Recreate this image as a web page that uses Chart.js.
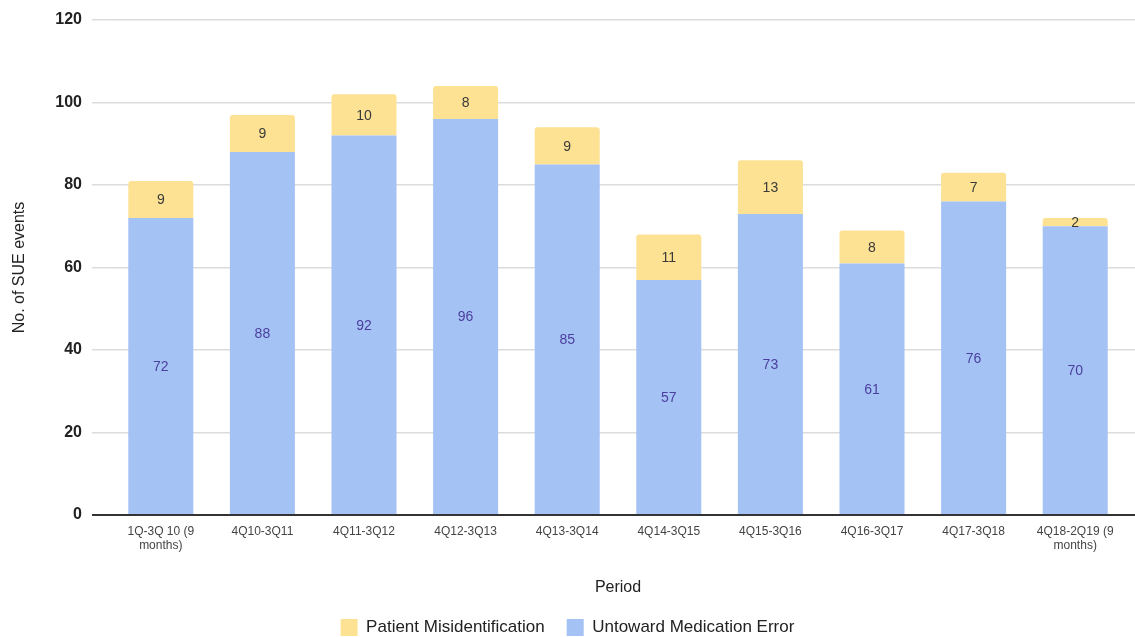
<!DOCTYPE html>
<html>
<head>
<meta charset="utf-8">
<script src="https://cdn.jsdelivr.net/npm/chart.js@4/dist/chart.umd.min.js"></script>
<style>
html,body{margin:0;padding:0;background:#fff;}
#wrap{width:1135px;height:637px;position:relative;}
</style>
</head>
<body>
<div id="wrap"><canvas id="c" width="1135" height="637"></canvas></div>
<script>
const categories = [
  ["1Q-3Q 10 (9", "months)"],
  "4Q10-3Q11",
  "4Q11-3Q12",
  "4Q12-3Q13",
  "4Q13-3Q14",
  "4Q14-3Q15",
  "4Q15-3Q16",
  "4Q16-3Q17",
  "4Q17-3Q18",
  ["4Q18-2Q19 (9", "months)"]
];
const medicationError = [72, 88, 92, 96, 85, 57, 73, 61, 76, 70];
const misidentification = [9, 9, 10, 8, 9, 11, 13, 8, 7, 2];
const yTicks = [0, 20, 40, 60, 80, 100, 120];

const FONT = "'Liberation Sans', Arial, sans-serif";

const labelPlugin = {
  id: 'segLabels',
  afterDatasetsDraw(chart) {
    const ctx = chart.ctx;
    ctx.save();
    ctx.font = '14px ' + FONT;
    ctx.textAlign = 'center';
    ctx.textBaseline = 'middle';
    chart.data.datasets.forEach((ds, di) => {
      const meta = chart.getDatasetMeta(di);
      meta.data.forEach((bar, i) => {
        const p = bar.getProps(['x', 'y', 'base'], true);
        const cy = (p.y + p.base) / 2;
        ctx.fillStyle = ds.labelColor;
        ctx.fillText(String(ds.data[i]), p.x, cy + 1);
      });
    });
    ctx.restore();
  }
};

new Chart(document.getElementById('c'), {
  type: 'bar',
  data: {
    labels: categories,
    datasets: [
      {
        label: 'Untoward Medication Error',
        data: medicationError,
        backgroundColor: '#a4c2f4',
        labelColor: '#4b3f9e',
        borderRadius: 0,
        categoryPercentage: 1,
        barPercentage: 0.64
      },
      {
        label: 'Patient Misidentification',
        data: misidentification,
        backgroundColor: '#fde293',
        labelColor: '#3a3a3a',
        borderRadius: {topLeft: 3, topRight: 3, bottomLeft: 0, bottomRight: 0},
        borderSkipped: 'bottom',
        categoryPercentage: 1,
        barPercentage: 0.64
      }
    ]
  },
  options: {
    responsive: false,
    animation: false,
    devicePixelRatio: 1,
    layout: {padding: {top: 20, left: 0, right: 0, bottom: -9}},
    plugins: {
      tooltip: {enabled: false},
      legend: {
        position: 'bottom',
        reverse: true,
        labels: {
          boxWidth: 17,
          boxHeight: 17,
          padding: 22,
          color: '#222',
          font: {family: FONT, size: 17}
        }
      }
    },
    scales: {
      x: {
        stacked: true,
        grid: {display: false, drawTicks: false},
        border: {display: false},
        ticks: {
          color: '#444',
          font: {family: FONT, size: 12},
          padding: 9,
          maxRotation: 0,
          autoSkip: false
        },
        title: {
          display: true,
          text: 'Period',
          color: '#222',
          font: {family: FONT, size: 16},
          padding: {top: 30, bottom: 0}
        },
        afterFit(s) { s.height = 82; }
      },
      y: {
        stacked: true,
        min: 0,
        max: 120,
        afterBuildTicks(s) { s.ticks = yTicks.map(v => ({value: v})); },
        grid: {
          color: c => (c.tick && c.tick.value === 0) ? '#333' : '#dcdcdc',
          lineWidth: c => (c.tick && c.tick.value === 0) ? 2 : 1.5,
          tickLength: 18,
          drawTicks: true
        },
        border: {display: false},
        ticks: {
          color: '#222',
          font: {family: FONT, size: 16, weight: 'bold'},
          padding: 10
        },
        title: {
          display: true,
          text: 'No. of SUE events',
          color: '#222',
          font: {family: FONT, size: 16},
          padding: {top: 10, bottom: 0}
        },
        afterFit(s) { s.width = 110; }
      },
      y2: {
        position: 'right',
        min: 0,
        max: 120,
        afterBuildTicks(s) { s.ticks = yTicks.map(v => ({value: v})); },
        grid: {
          drawOnChartArea: false,
          color: c => (c.tick && c.tick.value === 0) ? '#333' : '#dcdcdc',
          lineWidth: c => (c.tick && c.tick.value === 0) ? 2 : 1.5,
          tickLength: 9,
          drawTicks: true
        },
        border: {display: false},
        ticks: {display: false},
        afterFit(s) { s.width = 9; }
      }
    }
  },
  plugins: [labelPlugin]
});
</script>
</body>
</html>
